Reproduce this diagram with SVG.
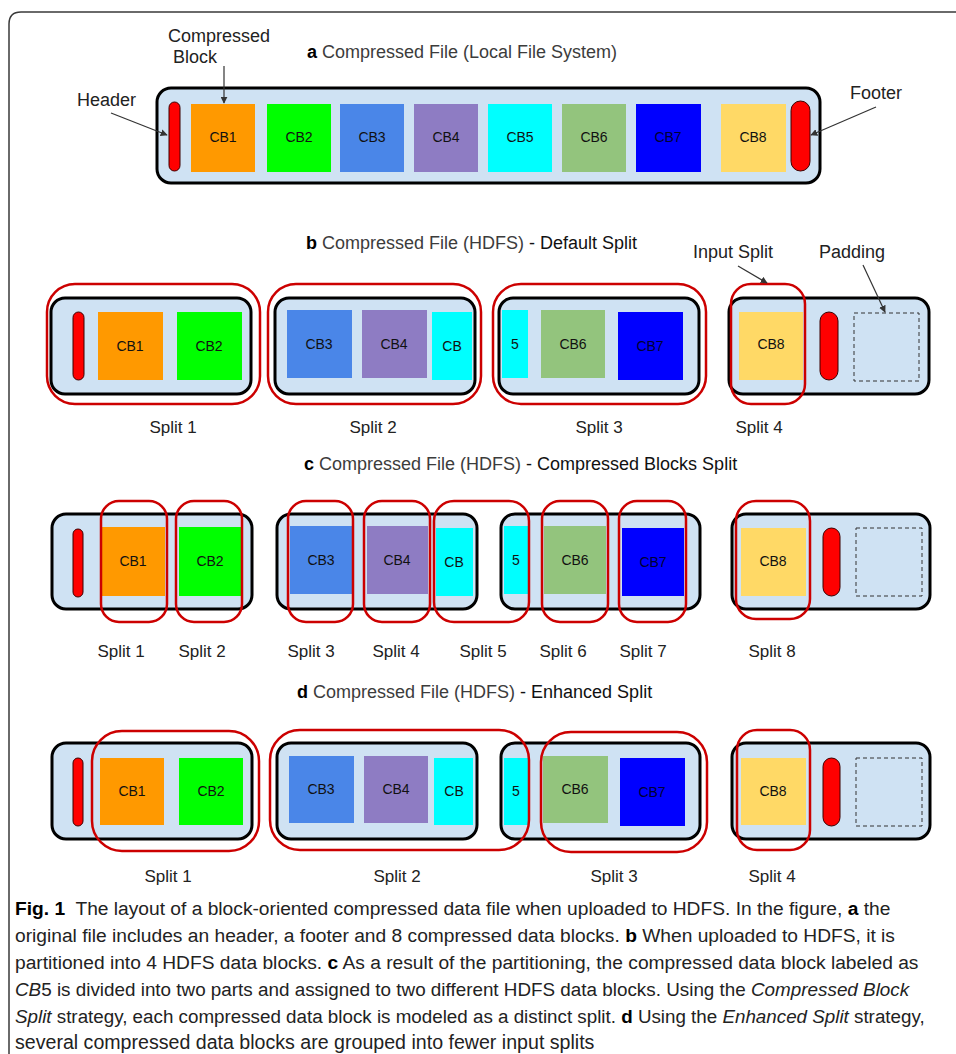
<svg xmlns="http://www.w3.org/2000/svg" width="956" height="1054" viewBox="0 0 956 1054">
<style>
.bg{fill:#ffffff}
.frame{fill:none;stroke:#3a3a3a;stroke-width:1.5}
.file{fill:#cfe2f3;stroke:#000;stroke-width:3}
.split{fill:none;stroke:#cc0000;stroke-width:2.5}
.pill{fill:#ff0000;stroke:#3a0000;stroke-width:1}
.pad{fill:#cfe2f3;stroke:#333;stroke-width:1;stroke-dasharray:4 3}
.c1{fill:#ff9900}.c2{fill:#00ff00}.c3{fill:#4a86e8}.c4{fill:#8e7cc3}
.c5{fill:#00ffff}.c6{fill:#93c47d}.c7{fill:#0000ff}.c8{fill:#ffd966}
.cb{font-family:"Liberation Sans",Arial,sans-serif;font-size:14px;fill:#111;text-anchor:middle}
.cb7{fill:#000033}
.lbl{font-family:"Liberation Sans",Arial,sans-serif;font-size:18px;fill:#222}
.sl{font-family:"Liberation Sans",Arial,sans-serif;font-size:17px;fill:#222;text-anchor:middle}
.ttl{font-family:"Liberation Sans",Arial,sans-serif;font-size:18px;fill:#111}
.ttl .g{fill:#3c3c3c}
.ttl .b{font-weight:bold;fill:#000}
.arr{stroke:#333;stroke-width:1.2;fill:none}
.cap{font-family:"Liberation Sans",Arial,sans-serif;font-size:19.2px;fill:#222}
.cap .b{font-weight:bold;fill:#000}
.cap .i{font-style:italic}
</style>
<defs>
<marker id="ah" viewBox="0 0 10 10" refX="9" refY="5" markerWidth="7" markerHeight="7" markerUnits="userSpaceOnUse" orient="auto">
<path d="M0,0 L10,5 L0,10 z" fill="#333"/>
</marker>
</defs>
<rect class="bg" x="0" y="0" width="956" height="1054"/>
<path class="frame" d="M9,1054 V24 Q9,12 21,12 H956"/>

<!-- Section a -->
<g id="title-a"><text class="ttl" x="307" y="58"><tspan class="b">a</tspan><tspan class="g"> Compressed File (Local File System)</tspan></text></g>
<g id="a-file">
<rect class="file" x="157" y="88" width="663" height="95" rx="14"/>
</g>
<g id="a-header"><rect class="pill" x="169" y="102" width="11" height="69" rx="5.5"/></g>
<g id="a-cb1"><rect class="c1" x="191" y="104" width="64" height="68"/><text class="cb" x="223" y="142">CB1</text></g>
<g id="a-cb2"><rect class="c2" x="267" y="104" width="64" height="68"/><text class="cb" x="299" y="142">CB2</text></g>
<g id="a-cb3"><rect class="c3" x="340" y="104" width="64" height="68"/><text class="cb" x="372" y="142">CB3</text></g>
<g id="a-cb4"><rect class="c4" x="414" y="104" width="64" height="68"/><text class="cb" x="446" y="142">CB4</text></g>
<g id="a-cb5"><rect class="c5" x="488" y="104" width="64" height="68"/><text class="cb" x="520" y="142">CB5</text></g>
<g id="a-cb6"><rect class="c6" x="562" y="104" width="64" height="68"/><text class="cb" x="594" y="142">CB6</text></g>
<g id="a-cb7"><rect class="c7" x="636" y="104" width="65" height="68"/><text class="cb cb7" x="668" y="142">CB7</text></g>
<g id="a-cb8"><rect class="c8" x="721" y="104" width="65" height="68"/><text class="cb" x="753" y="142">CB8</text></g>
<g id="a-footer"><rect class="pill" x="791" y="101" width="19" height="70" rx="9.5"/></g>
<g id="lbl-compressed-block"><text class="lbl" x="168" y="42">Compressed</text><text class="lbl" x="173" y="63">Block</text></g>
<g id="lbl-header"><text class="lbl" x="77" y="106">Header</text></g>
<g id="lbl-footer"><text class="lbl" x="850" y="99">Footer</text></g>

<!-- Section b -->
<g id="title-b"><text class="ttl" x="306" y="249"><tspan class="b">b</tspan><tspan class="g"> Compressed File (HDFS)</tspan> - Default Split</text></g>
<g id="b-block1">
<rect class="file" x="51" y="298" width="200" height="96" rx="14"/>
<rect class="pill" x="73" y="312" width="11" height="68" rx="5.5"/>
<rect class="c1" x="98" y="312" width="65" height="68"/><text class="cb" x="130" y="351">CB1</text>
<rect class="c2" x="177" y="312" width="65" height="68"/><text class="cb" x="209" y="351">CB2</text>
</g>
<g id="b-block2">
<rect class="file" x="275" y="298" width="200" height="96" rx="14"/>
<rect class="c3" x="287" y="310" width="65" height="68"/><text class="cb" x="319" y="349">CB3</text>
<rect class="c4" x="362" y="310" width="65" height="68"/><text class="cb" x="394" y="349">CB4</text>
<rect class="c5" x="432" y="312" width="40" height="68"/><text class="cb" x="452" y="351">CB</text>
</g>
<g id="b-block3">
<rect class="file" x="499" y="298" width="200" height="96" rx="14"/>
<rect class="c5" x="502" y="310" width="26" height="68"/><text class="cb" x="515" y="349">5</text>
<rect class="c6" x="541" y="310" width="64" height="68"/><text class="cb" x="573" y="349">CB6</text>
<rect class="c7" x="618" y="312" width="65" height="68"/><text class="cb cb7" x="650" y="351">CB7</text>
</g>
<g id="b-block4">
<rect class="file" x="729" y="298" width="200" height="96" rx="14"/>
<rect class="c8" x="739" y="312" width="64" height="68"/><text class="cb" x="771" y="349">CB8</text>
<rect class="pill" x="820" y="312" width="18" height="68" rx="9"/>
<rect class="pad" x="854" y="313" width="65" height="68"/>
</g>
<g id="b-splits">
<rect class="split" x="47" y="284" width="213" height="120" rx="28"/>
<rect class="split" x="268" y="284" width="213" height="120" rx="28"/>
<rect class="split" x="493" y="284" width="213" height="120" rx="28"/>
<rect class="split" x="731" y="284" width="74" height="120" rx="20"/>
</g>
<g id="b-labels">
<text class="sl" x="173" y="433">Split 1</text>
<text class="sl" x="373" y="433">Split 2</text>
<text class="sl" x="599" y="433">Split 3</text>
<text class="sl" x="759" y="433">Split 4</text>
</g>
<g id="lbl-input-split"><text class="lbl" x="693" y="258">Input Split</text></g>
<g id="lbl-padding"><text class="lbl" x="819" y="258">Padding</text></g>

<!-- Section c -->
<g id="title-c"><text class="ttl" x="304" y="470"><tspan class="b">c</tspan><tspan class="g"> Compressed File (HDFS)</tspan> - Compressed Blocks Split</text></g>
<g id="c-block1">
<rect class="file" x="52" y="514" width="200" height="95" rx="14"/>
<rect class="pill" x="73" y="529" width="10" height="68" rx="5"/>
<rect class="c1" x="101" y="527" width="64" height="69"/><text class="cb" x="133" y="566">CB1</text>
<rect class="c2" x="179" y="527" width="62" height="69"/><text class="cb" x="210" y="566">CB2</text>
</g>
<g id="c-block2">
<rect class="file" x="277" y="514" width="200" height="95" rx="14"/>
<rect class="c3" x="290" y="526" width="62" height="68"/><text class="cb" x="321" y="565">CB3</text>
<rect class="c4" x="367" y="526" width="61" height="68"/><text class="cb" x="397" y="565">CB4</text>
<rect class="c5" x="436" y="528" width="37" height="68"/><text class="cb" x="454" y="567">CB</text>
</g>
<g id="c-block3">
<rect class="file" x="501" y="514" width="199" height="95" rx="14"/>
<rect class="c5" x="504" y="526" width="25" height="68"/><text class="cb" x="516" y="565">5</text>
<rect class="c6" x="544" y="526" width="62" height="68"/><text class="cb" x="575" y="565">CB6</text>
<rect class="c7" x="622" y="528" width="62" height="68"/><text class="cb cb7" x="653" y="567">CB7</text>
</g>
<g id="c-block4">
<rect class="file" x="732" y="514" width="198" height="95" rx="14"/>
<rect class="c8" x="741" y="528" width="65" height="68"/><text class="cb" x="773" y="566">CB8</text>
<rect class="pill" x="823" y="528" width="17" height="68" rx="8.5"/>
<rect class="pad" x="856" y="528" width="66" height="68"/>
</g>
<g id="c-splits">
<rect class="split" x="101" y="501" width="66" height="121" rx="18"/>
<rect class="split" x="176" y="501" width="66" height="121" rx="18"/>
<rect class="split" x="288" y="501" width="65" height="121" rx="18"/>
<rect class="split" x="364" y="501" width="66" height="121" rx="18"/>
<rect class="split" x="434" y="501" width="95" height="121" rx="20"/>
<rect class="split" x="542" y="501" width="66" height="121" rx="18"/>
<rect class="split" x="619" y="501" width="67" height="121" rx="18"/>
<rect class="split" x="736" y="501" width="74" height="118" rx="20"/>
</g>
<g id="c-labels">
<text class="sl" x="121" y="657">Split 1</text>
<text class="sl" x="202" y="657">Split 2</text>
<text class="sl" x="311" y="657">Split 3</text>
<text class="sl" x="396" y="657">Split 4</text>
<text class="sl" x="483" y="657">Split 5</text>
<text class="sl" x="563" y="657">Split 6</text>
<text class="sl" x="643" y="657">Split 7</text>
<text class="sl" x="772" y="657">Split 8</text>
</g>

<!-- Section d -->
<g id="title-d"><text class="ttl" x="297" y="698"><tspan class="b">d</tspan><tspan class="g"> Compressed File (HDFS)</tspan> - Enhanced Split</text></g>
<g id="d-block1">
<rect class="file" x="52" y="743" width="200" height="96" rx="14"/>
<rect class="pill" x="73" y="758" width="10" height="68" rx="5"/>
<rect class="c1" x="100" y="758" width="64" height="67"/><text class="cb" x="132" y="796">CB1</text>
<rect class="c2" x="179" y="758" width="64" height="67"/><text class="cb" x="211" y="796">CB2</text>
</g>
<g id="d-block2">
<rect class="file" x="277" y="743" width="200" height="96" rx="14"/>
<rect class="c3" x="289" y="756" width="65" height="67"/><text class="cb" x="321" y="794">CB3</text>
<rect class="c4" x="364" y="756" width="64" height="67"/><text class="cb" x="396" y="794">CB4</text>
<rect class="c5" x="434" y="758" width="39" height="67"/><text class="cb" x="454" y="796">CB</text>
</g>
<g id="d-block3">
<rect class="file" x="501" y="743" width="199" height="96" rx="14"/>
<rect class="c5" x="504" y="758" width="25" height="67"/><text class="cb" x="516" y="796">5</text>
<rect class="c6" x="543" y="756" width="65" height="67"/><text class="cb" x="575" y="794">CB6</text>
<rect class="c7" x="620" y="758" width="65" height="68"/><text class="cb cb7" x="652" y="797">CB7</text>
</g>
<g id="d-block4">
<rect class="file" x="732" y="743" width="198" height="96" rx="14"/>
<rect class="c8" x="741" y="758" width="65" height="67"/><text class="cb" x="773" y="796">CB8</text>
<rect class="pill" x="823" y="758" width="17" height="68" rx="8.5"/>
<rect class="pad" x="856" y="758" width="66" height="68"/>
</g>
<g id="d-splits">
<rect class="split" x="92" y="731" width="167" height="120" rx="30"/>
<rect class="split" x="270" y="730" width="259" height="120" rx="30"/>
<rect class="split" x="541" y="732" width="166" height="120" rx="30"/>
<rect class="split" x="737" y="730" width="73" height="120" rx="20"/>
</g>
<g id="d-labels">
<text class="sl" x="168" y="882">Split 1</text>
<text class="sl" x="397" y="882">Split 2</text>
<text class="sl" x="614" y="882">Split 3</text>
<text class="sl" x="772" y="882">Split 4</text>
</g>

<!-- connectors -->
<g id="connectors">
<line class="arr" x1="224" y1="66" x2="224" y2="103" marker-end="url(#ah)"/>
<line class="arr" x1="111" y1="113" x2="167" y2="135" marker-end="url(#ah)"/>
<line class="arr" x1="876" y1="107" x2="811" y2="135" marker-end="url(#ah)"/>
<line class="arr" x1="738" y1="266" x2="767" y2="283" marker-end="url(#ah)"/>
<line class="arr" x1="863" y1="265" x2="885" y2="312" marker-end="url(#ah)"/>
</g>

<!-- caption -->
<g id="caption">
<text class="cap" x="15" y="915"><tspan class="b">Fig. 1</tspan>&#160; The layout of a block-oriented compressed data file when uploaded to HDFS. In the figure, <tspan class="b">a</tspan> the</text>
<text class="cap" x="15" y="942">original file includes an header, a footer and 8 compressed data blocks. <tspan class="b">b</tspan> When uploaded to HDFS, it is</text>
<text class="cap" x="15" y="969">partitioned into 4 HDFS data blocks. <tspan class="b">c</tspan> As a result of the partitioning, the compressed data block labeled as</text>
<text class="cap" x="15" y="996" style="font-size:18.85px"><tspan class="i">CB</tspan>5 is divided into two parts and assigned to two different HDFS data blocks. Using the <tspan class="i">Compressed Block</tspan></text>
<text class="cap" x="15" y="1023" style="font-size:18.8px"><tspan class="i">Split</tspan> strategy, each compressed data block is modeled as a distinct split. <tspan class="b">d</tspan> Using the <tspan class="i">Enhanced Split</tspan> strategy,</text>
<text class="cap" x="15" y="1049" style="font-size:19.6px">several compressed data blocks are grouped into fewer input splits</text>
</g>
</svg>
